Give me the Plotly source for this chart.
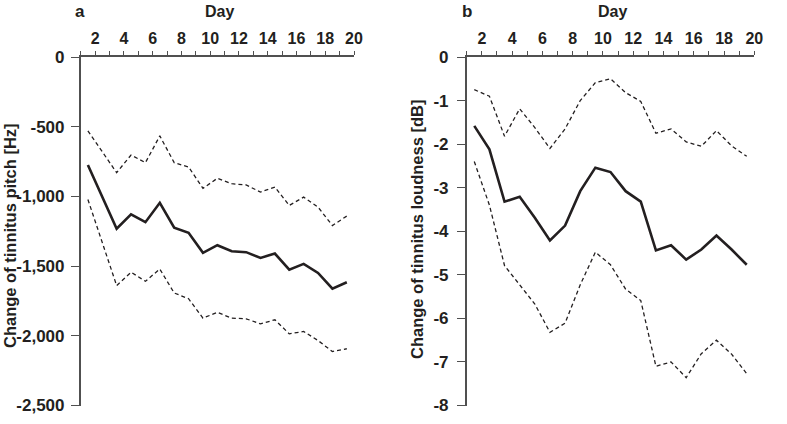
import plotly.graph_objects as go

days = list(range(1, 20))

pitch_mean = [-775, -1000, -1232, -1129, -1185, -1046, -1225, -1261, -1405, -1350,
              -1393, -1400, -1441, -1410, -1525, -1484, -1549, -1662, -1616]
pitch_upper = [-530, -676, -830, -703, -758, -566, -758, -789, -942, -870,
               -909, -918, -969, -933, -1065, -1005, -1077, -1209, -1141]
pitch_lower = [-1022, -1326, -1640, -1544, -1609, -1521, -1693, -1734, -1873, -1832,
               -1873, -1878, -1914, -1885, -1986, -1969, -2034, -2113, -2093]

loud_mean = [-1.58, -2.12, -3.32, -3.21, -3.69, -4.21, -3.87, -3.08, -2.54, -2.64,
             -3.08, -3.32, -4.44, -4.32, -4.65, -4.42, -4.10, -4.42, -4.77]
loud_upper = [-0.75, -0.90, -1.82, -1.19, -1.62, -2.10, -1.65, -1.00, -0.59, -0.50,
              -0.82, -1.02, -1.75, -1.65, -1.95, -2.05, -1.69, -2.04, -2.28]
loud_lower = [-2.40, -3.40, -4.79, -5.23, -5.67, -6.32, -6.11, -5.23, -4.48, -4.77,
              -5.33, -5.59, -7.10, -7.00, -7.36, -6.81, -6.50, -6.82, -7.27]

x_tick_pos = [i + 0.5 for i in range(20)]
x_tick_text = [str(i + 1) if (i + 1) % 2 == 0 else "" for i in range(20)]

pitch_ticks = [0, -500, -1000, -1500, -2000, -2500]
pitch_tick_text = ["0", "-500", "-1,000", "-1,500", "-2,000", "-2,500"]
loud_ticks = [0, -1, -2, -3, -4, -5, -6, -7, -8]
loud_tick_text = ["0", "-1", "-2", "-3", "-4", "-5", "-6", "-7", "-8"]

INK = "#231f20"
AXIS = "#505050"
FAMILY = "Liberation Sans, Arial, sans-serif"
XTICK_FONT = dict(family=FAMILY, size=16, color=INK, weight="bold")
YTICK_FONT = dict(family=FAMILY, size=17, color=INK, weight="bold")
DAY_FONT = dict(family=FAMILY, size=16, color=INK, weight="bold")
LETTER_FONT = dict(family=FAMILY, size=17, color=INK, weight="bold")
TITLE_FONT = dict(family=FAMILY, size=16.5, color=INK, weight="bold")

fig = go.Figure()

def add_lines(xa, ya, mean, upper, lower):
    fig.add_trace(go.Scatter(x=days, y=upper, mode="lines", xaxis=xa, yaxis=ya,
                             line=dict(color=INK, width=1.3, dash="4px,3px"), showlegend=False))
    fig.add_trace(go.Scatter(x=days, y=lower, mode="lines", xaxis=xa, yaxis=ya,
                             line=dict(color=INK, width=1.3, dash="4px,3px"), showlegend=False))
    fig.add_trace(go.Scatter(x=days, y=mean, mode="lines", xaxis=xa, yaxis=ya,
                             line=dict(color=INK, width=2.6), showlegend=False))

add_lines("x", "y", pitch_mean, pitch_upper, pitch_lower)
add_lines("x2", "y2", loud_mean, loud_upper, loud_lower)

W, H = 787, 424
def px_x(p):
    return p / W
def px_y(p):
    return 1 - p / H

TOP, BOTTOM = 57, 405.5

xaxis_common = dict(
    range=[0.5, 19.5], side="top", showline=True, linecolor=AXIS, linewidth=1.6,
    ticks="outside", ticklen=4, tickwidth=1.2, tickcolor=AXIS,
    tickmode="array", tickvals=x_tick_pos, ticktext=x_tick_text,
    tickfont=XTICK_FONT, showgrid=False, zeroline=False, fixedrange=True,
    ticklabelstandoff=1, automargin=False,
)
yaxis_common = dict(
    showline=True, linecolor=AXIS, linewidth=1.6,
    ticks="outside", ticklen=8, tickwidth=1.2, tickcolor=AXIS,
    tickmode="array", tickfont=YTICK_FONT, showgrid=False, zeroline=False, fixedrange=True,
    automargin=False,
)

fig.update_layout(
    width=W, height=H,
    margin=dict(l=0, r=0, t=0, b=0, autoexpand=False),
    paper_bgcolor="white", plot_bgcolor="white",
    xaxis=dict(domain=[px_x(80.7), px_x(354)], anchor="y", **xaxis_common),
    yaxis=dict(domain=[px_y(BOTTOM), px_y(TOP)], anchor="x", range=[-2500, 0],
               tickvals=pitch_ticks, ticktext=pitch_tick_text, ticklabelstandoff=3,
               **yaxis_common),
    xaxis2=dict(domain=[px_x(466.7), px_x(754.3)], anchor="y2", **xaxis_common),
    yaxis2=dict(domain=[px_y(BOTTOM), px_y(TOP)], anchor="x2", range=[-8, 0],
                tickvals=loud_ticks, ticktext=loud_tick_text, ticklabelstandoff=5,
                **yaxis_common),
    annotations=[
        dict(text="a", x=px_x(80), y=px_y(12), xref="paper", yref="paper",
             showarrow=False, font=LETTER_FONT, xanchor="center", yanchor="middle"),
        dict(text="Day", x=px_x(219), y=px_y(12), xref="paper", yref="paper",
             showarrow=False, font=DAY_FONT, xanchor="center", yanchor="middle"),
        dict(text="b", x=px_x(467), y=px_y(12), xref="paper", yref="paper",
             showarrow=False, font=LETTER_FONT, xanchor="center", yanchor="middle"),
        dict(text="Day", x=px_x(612), y=px_y(12), xref="paper", yref="paper",
             showarrow=False, font=DAY_FONT, xanchor="center", yanchor="middle"),
        dict(text="Change of tinnitus pitch [Hz]", x=px_x(10), y=px_y(236),
             xref="paper", yref="paper", showarrow=False, font=TITLE_FONT, textangle=-90,
             xanchor="center", yanchor="middle"),
        dict(text="Change of tinnitus loudness [dB]", x=px_x(417), y=px_y(230),
             xref="paper", yref="paper", showarrow=False, font=TITLE_FONT, textangle=-90,
             xanchor="center", yanchor="middle"),
    ],
)

fig.write_html("out.html", config={"displayModeBar": False},
               post_script="document.body.style.margin='0';")
